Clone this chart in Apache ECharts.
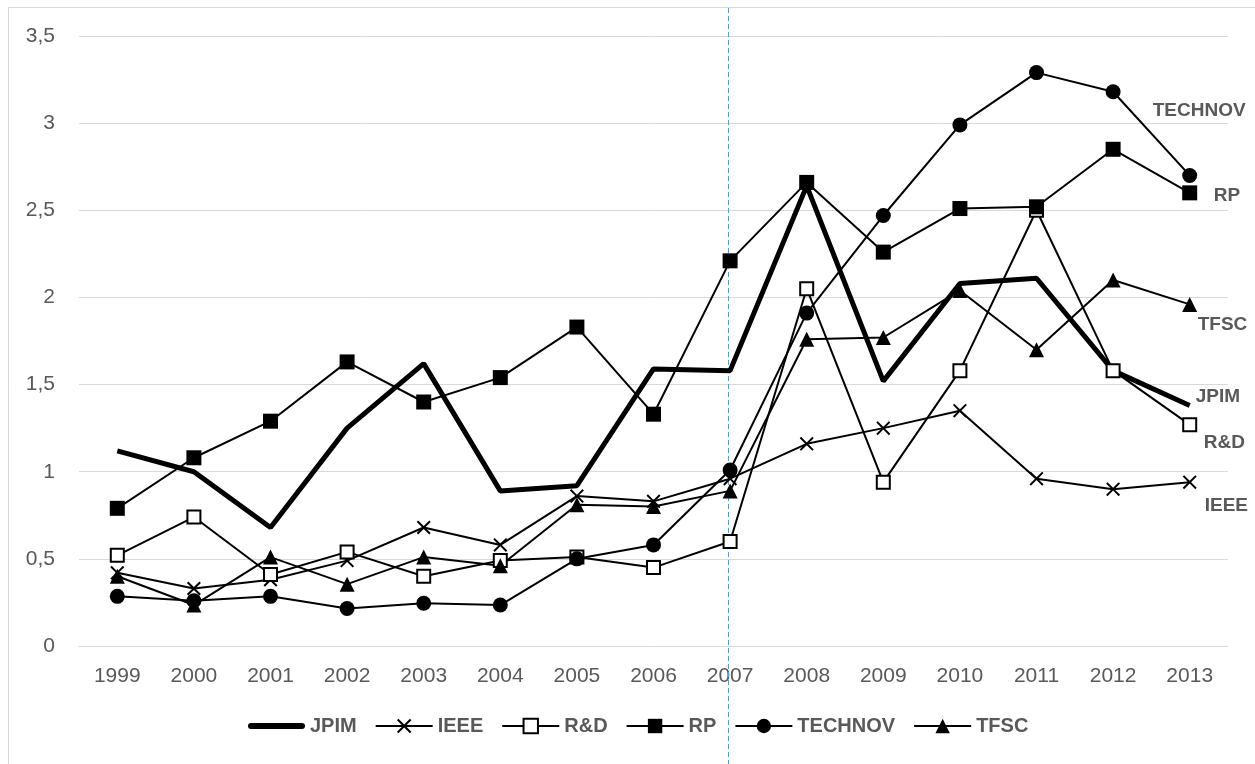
<!DOCTYPE html>
<html>
<head>
<meta charset="utf-8">
<script src="https://cdn.jsdelivr.net/npm/echarts@6/dist/echarts.min.js"></script>
<style>
html,body{margin:0;padding:0;background:#fff;}
#chart{width:1255px;height:764px;}
</style>
</head>
<body>
<div id="chart"></div>
<script>
const years = ['1999','2000','2001','2002','2003','2004','2005','2006','2007','2008','2009','2010','2011','2012','2013'];
const JPIM    = [1.12, 1.00, 0.68, 1.25, 1.62, 0.89, 0.92, 1.59, 1.58, 2.64, 1.52, 2.08, 2.11, 1.58, 1.38];
const IEEE    = [0.42, 0.33, 0.38, 0.49, 0.68, 0.58, 0.86, 0.83, 0.96, 1.16, 1.25, 1.35, 0.96, 0.90, 0.94];
const RD      = [0.52, 0.74, 0.41, 0.54, 0.40, 0.49, 0.51, 0.45, 0.60, 2.05, 0.94, 1.58, 2.50, 1.58, 1.27];
const RP      = [0.79, 1.08, 1.29, 1.63, 1.40, 1.54, 1.83, 1.33, 2.21, 2.66, 2.26, 2.51, 2.52, 2.85, 2.60];
const TECHNOV = [0.285, 0.26, 0.285, 0.215, 0.245, 0.235, 0.50, 0.58, 1.01, 1.91, 2.47, 2.99, 3.29, 3.18, 2.70];
const TFSC    = [0.40, 0.235, 0.51, 0.355, 0.51, 0.46, 0.81, 0.80, 0.89, 1.76, 1.77, 2.04, 1.70, 2.10, 1.96];
const markerYear = '2007';

const FONT = 'Liberation Sans';
const GREY = '#595959';
const crossPath = 'path://M0,1L1,0L5,4L9,0L10,1L6,5L10,9L9,10L5,6L1,10L0,9L4,5Z';
const thickLinePath = 'path://M3,0L54,0A3,3,0,0,1,54,6L3,6A3,3,0,0,1,3,0Z';

function endLbl(dx, dy) {
  return {show: true, formatter: '{a}', offset: [dx, dy], color: GREY, fontWeight: 'bold', fontSize: 19, fontFamily: FONT, distance: 5};
}
function thin(name, data, symbol, size, itemStyle, lbl) {
  return {
    name: name, type: 'line', data: data, symbol: symbol, symbolSize: size,
    showAllSymbol: true,
    lineStyle: {color: '#000', width: 2},
    itemStyle: itemStyle,
    endLabel: lbl,
    z: 3
  };
}

const chart = echarts.init(document.getElementById('chart'));
chart.setOption({
  animation: false,
  backgroundColor: '#fff',
  grid: {left: 79, right: 27, top: 36, bottom: 118, containLabel: false},
  legend: {
    left: 243, top: 711,
    itemWidth: 57, itemHeight: 18, itemGap: 18,
    symbolKeepAspect: true,
    textStyle: {color: GREY, fontWeight: 'bold', fontSize: 20, fontFamily: FONT},
    data: [
      {name: 'JPIM', icon: thickLinePath, itemStyle: {color: '#000'}},
      'IEEE','R&D','RP','TECHNOV','TFSC'
    ]
  },
  xAxis: {
    type: 'category', data: years, boundaryGap: true,
    axisLine: {show: true, lineStyle: {color: '#d9d9d9', width: 1}},
    axisTick: {show: false},
    axisLabel: {color: GREY, fontSize: 21, fontFamily: FONT, margin: 20}
  },
  yAxis: {
    type: 'value', min: 0, max: 3.5, interval: 0.5,
    axisLine: {show: false}, axisTick: {show: false},
    splitLine: {lineStyle: {color: '#d9d9d9', width: 1}},
    axisLabel: {color: GREY, fontSize: 21, fontFamily: FONT, margin: 24,
      formatter: v => String(v).replace('.', ',')}
  },
  series: [
    {name: 'JPIM', type: 'line', data: JPIM, symbol: 'none',
     lineStyle: {color: '#000', width: 5}, itemStyle: {color: '#000'},
     endLabel: endLbl(1, -9), z: 2},
    thin('IEEE', IEEE, crossPath, 14, {color: '#000'}, endLbl(10, 24)),
    thin('R&D', RD, 'rect', 13, {color: '#fff', borderColor: '#000', borderWidth: 2}, endLbl(9, 18)),
    thin('RP', RP, 'rect', 15, {color: '#000'}, endLbl(19, 3)),
    thin('TECHNOV', TECHNOV, 'circle', 15, {color: '#000'}, endLbl(-42, -65)),
    thin('TFSC', TFSC, 'triangle', 15, {color: '#000'}, endLbl(3, 20))
  ]
});

const xp = Math.round(chart.convertToPixel({xAxisIndex: 0}, markerYear)) - 1.5;
chart.setOption({
  graphic: [
    {type: 'line', shape: {x1: 8.5, y1: 7.5, x2: 1255, y2: 7.5}, style: {stroke: '#d9d9d9', lineWidth: 1}, silent: true},
    {type: 'line', shape: {x1: 8.5, y1: 7.5, x2: 8.5, y2: 764}, style: {stroke: '#d9d9d9', lineWidth: 1}, silent: true},
    {type: 'line', shape: {x1: xp, y1: 8, x2: xp, y2: 764}, style: {stroke: '#5B9BD5', lineWidth: 1, lineDash: [5, 3]}, silent: true, z: 1}
  ]
});
</script>
</body>
</html>
